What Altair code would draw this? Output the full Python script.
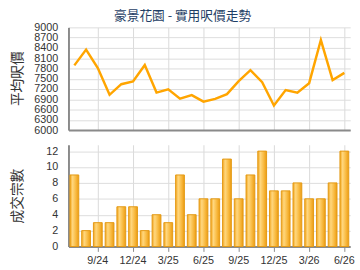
import altair as alt
import pandas as pd

months = ["7/24", "8/24", "9/24", "10/24", "11/24", "12/24", "1/25", "2/25", "3/25",
          "4/25", "5/25", "6/25", "7/25", "8/25", "9/25", "10/25", "11/25", "12/25",
          "1/26", "2/26", "3/26", "4/26", "5/26", "6/26"]
price = [7890, 8350, 7810, 7030, 7340, 7420, 7900, 7095, 7190, 6920, 7020, 6830,
         6910, 7050, 7430, 7750, 7400, 6720, 7170, 7090, 7370, 8630, 7460, 7670]
deals = [9, 2, 3, 3, 5, 5, 2, 4, 3, 9, 4, 6, 6, 11, 6, 9, 12, 7, 7, 8, 6, 6, 8, 12]
tick_months = ["9/24", "12/24", "3/25", "6/25", "9/25", "12/25", "3/26", "6/26"]
price_ticks = [6000, 6300, 6600, 6900, 7200, 7500, 7800, 8100, 8400, 8700, 9000]
deal_ticks = [0, 2, 4, 6, 8, 10, 12]

df = pd.DataFrame({"month": months, "price": price, "deals": deals})

FONT = "Liberation Sans"
CJK = "Noto Sans CJK TC"
W = 288
LBL = 11

top = alt.Chart(df).mark_line(color="#FFA500", strokeWidth=2.5).encode(
    x=alt.X("month:N", sort=None,
            scale=alt.Scale(type="point", padding=0.5),
            axis=alt.Axis(values=tick_months, labels=False, ticks=False, title=None,
                          grid=True, gridColor="#d9d9d9", domainColor="#8a8a8a",
                          domainWidth=2)),
    y=alt.Y("price:Q", scale=alt.Scale(domain=[6000, 9000], nice=False, zero=False),
            axis=alt.Axis(values=price_ticks, format="d", title="平均呎價", grid=True,
                          gridColor="#dcdcdc", ticks=False, labelPadding=11,
                          labelOverlap=False, labelFontSize=LBL, labelColor="#333333",
                          domainColor="#8a8a8a", domainWidth=2,
                          titleFontSize=14, titleFontWeight="normal", titleColor="#333333",
                          titleX=-52, titleY=52, titleAngle=-90, titleAlign="center",
                          titleBaseline="middle"))
).properties(width=W, height=105)

bar_fill = alt.Gradient(
    gradient="linear", x1=0, y1=0, x2=1, y2=0,
    stops=[alt.GradientStop(offset=0, color="#F2A51E"),
           alt.GradientStop(offset=0.3, color="#FFD77E"),
           alt.GradientStop(offset=0.65, color="#F9BC45"),
           alt.GradientStop(offset=1, color="#EC9C12")])

bottom = alt.Chart(df).mark_bar(fill=bar_fill, stroke="#E39A14", strokeWidth=1).encode(
    x=alt.X("month:N", sort=None,
            scale=alt.Scale(type="band", paddingInner=0.25, paddingOuter=0.125),
            axis=alt.Axis(values=tick_months, title=None, grid=True, gridColor="#d9d9d9",
                          bandPosition=0.5, labelAngle=0, labelFontSize=LBL,
                          labelOverlap=False,
                          labelColor="#333333", tickColor="#8a8a8a", tickSize=5,
                          labelPadding=3, domainColor="#8a8a8a", domainWidth=2)),
    y=alt.Y("deals:Q", scale=alt.Scale(domain=[0, 12.8], nice=False),
            axis=alt.Axis(values=deal_ticks, format="d", title="成交宗數", grid=True,
                          gridColor="#dcdcdc", ticks=False, labelPadding=11,
                          labelOverlap=False, labelFontSize=LBL, labelColor="#333333",
                          domainColor="#8a8a8a", domainWidth=2,
                          titleFontSize=14, titleFontWeight="normal", titleColor="#333333",
                          titleX=-52, titleY=52, titleAngle=-90, titleAlign="center",
                          titleBaseline="middle"))
).properties(width=W, height=104)

chart = alt.vconcat(top, bottom, spacing=10).properties(
    title=alt.TitleParams("豪景花園 - 實用呎價走勢", fontSize=13, fontWeight="normal",
                          color="#1F3F66", anchor="middle", frame="bounds", offset=-1,
                          font=CJK),
    padding={"left": 10, "top": 7, "right": 5, "bottom": 0},
).configure(font=FONT).configure_view(stroke=None).configure_axis(
    labelFont=FONT, titleFont=CJK)

chart.save("out.html", embed_options={"renderer": "svg", "actions": False})
